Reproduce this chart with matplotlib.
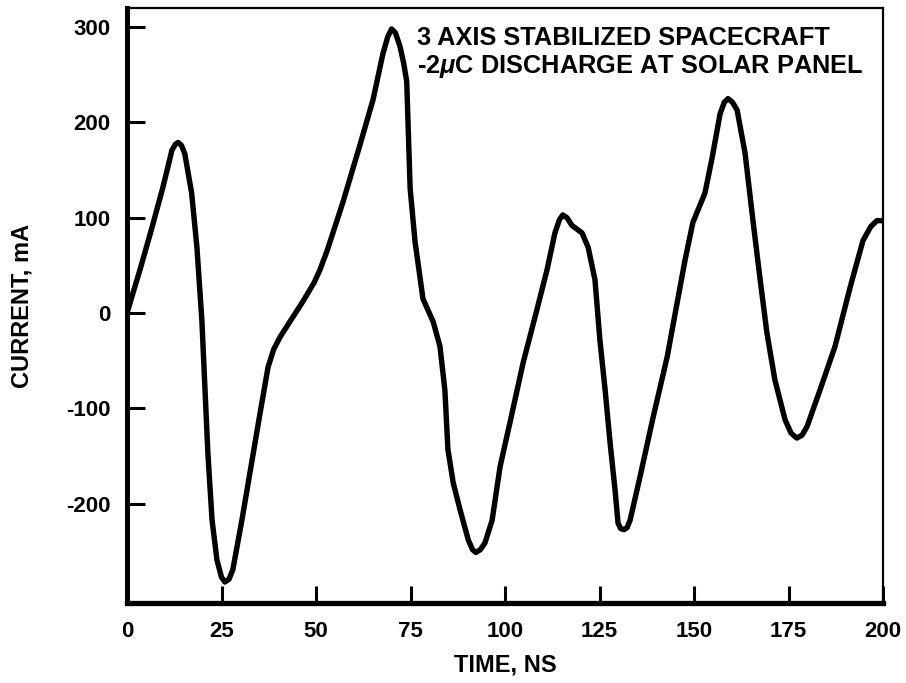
import matplotlib
matplotlib.use("Agg")
from matplotlib import pyplot as plt

plt.rcParams["font.family"] = ["Liberation Sans", "DejaVu Sans"]
plt.rcParams["font.weight"] = "bold"
plt.rcParams["axes.unicode_minus"] = False
plt.rcParams["mathtext.fontset"] = "custom"
plt.rcParams["mathtext.it"] = "Liberation Sans:italic:bold"
plt.rcParams["mathtext.rm"] = "Liberation Sans:bold"

# values (time in ns, current in mA)
time_ns = [0, 1.5, 3.4, 5.2, 6.9, 9.5, 11.9, 12.8, 13.5, 14.4, 15.3, 17.1, 18.5, 19.8,
           20.6, 21.4, 22.5, 23.8, 25, 25.9, 27, 28, 30.4, 33.1, 35.2, 37.3, 38.8, 40.5,
           43.9, 46.5, 49.5, 51, 52.9, 57.1, 61.6, 65.1, 67.7, 69, 70, 71, 72.2, 73.2,
           74, 74.9, 76.2, 78.3, 81, 82.8, 84.1, 84.9, 86.3, 88.1, 90.3, 91.4, 92.3,
           93.5, 94.7, 96.6, 98.7, 101.3, 104.8, 108.4, 111.1, 113.2, 114.4, 115.3,
           116.4, 117.7, 120.4, 122, 123.8, 125.1, 126.5, 127.8, 129.1, 129.9, 130.6,
           131.5, 132.3, 133.1, 135.7, 139.2, 142.9, 145.5, 147.6, 149.7, 152.9, 154.8,
           156.9, 158, 159, 160.2, 161.4, 163.5, 165.6, 167.5, 169.3, 171.4, 174.1,
           175.7, 177.2, 178.6, 179.9, 183.3, 187.3, 191.3, 194.7, 196.8, 198.4, 200]
current_ma = [0, 20, 45, 70, 94, 132, 171, 177, 179, 176, 167, 126, 69, -7,
              -77, -147, -217, -259, -277, -282, -279, -269, -217, -154, -105, -57, -38, -25,
              -4, 12, 32, 45, 65, 116, 176, 224, 272, 290, 298, 294, 280, 262,
              243, 131, 75, 15, -9, -35, -81, -143, -178, -206, -238, -248, -251,
              -248, -241, -217, -161, -115, -52, 3, 45, 84, 98, 103,
              100, 92, 84, 69, 35, -28, -81, -136, -185, -220, -226,
              -227, -225, -217, -172, -109, -46, 10, 55, 95, 126, 163,
              209, 221, 225, 221, 213, 168, 97, 35, -21, -70, -112,
              -126, -131, -128, -119, -81, -35, 27, 76, 91, 97, 97]

x_ticks = [0, 25, 50, 75, 100, 125, 150, 175, 200]
y_ticks = [-200, -100, 0, 100, 200, 300]

fig = plt.figure(figsize=(9.06, 6.83), dpi=100)
ax = fig.add_axes([127 / 906, 1 - 603 / 683, (883 - 127) / 906, (603 - 8) / 683])

ax.plot(time_ns, current_ma, color="black", linewidth=3.9,
        solid_joinstyle="round", solid_capstyle="round")

ax.set_xlim(0, 200)
ax.set_ylim(-304, 320)
ax.set_xticks(x_ticks)
ax.set_yticks(y_ticks)
ax.tick_params(direction="in", width=2.2, labelsize=16, colors="black")
ax.tick_params(axis="y", length=13, pad=12)
ax.tick_params(axis="x", length=12, pad=13)
for lab in ax.get_xticklabels() + ax.get_yticklabels():
    lab.set_fontweight("bold")

ax.spines["left"].set_linewidth(3.6)
ax.spines["bottom"].set_linewidth(3.8)
ax.spines["top"].set_linewidth(1.6)
ax.spines["right"].set_linewidth(1.6)

ax.set_xlabel("TIME, NS", fontsize=17, fontweight="bold", va="center")
ax.set_ylabel("CURRENT, mA", fontsize=17, fontweight="bold", va="center")
ax.xaxis.set_label_coords(0.5, -0.104)
ax.yaxis.set_label_coords(-0.139, 0.5)

ax.text(0.384, 0.969, "3 AXIS STABILIZED SPACECRAFT\n-2$\\mathit{\\mu}$C DISCHARGE AT SOLAR PANEL",
        transform=ax.transAxes, ha="left", va="top", fontsize=18.3,
        fontweight="bold", linespacing=1.15)

fig.savefig("out.png", dpi=100)
